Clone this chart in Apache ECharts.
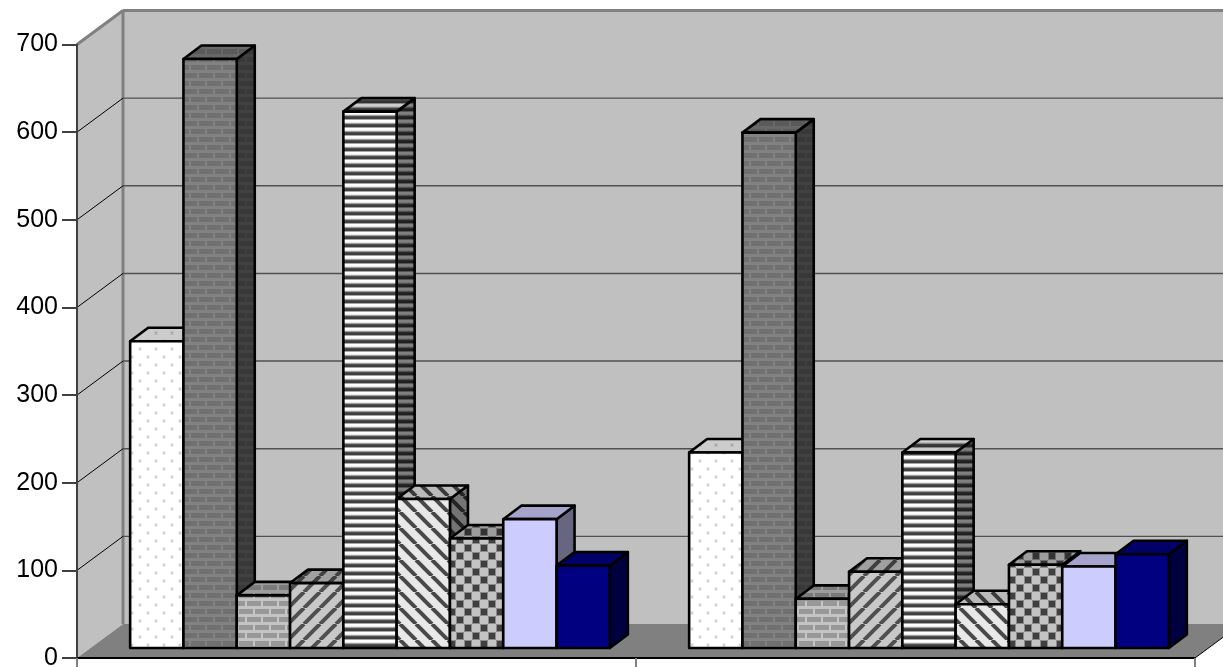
<!DOCTYPE html>
<html>
<head>
<meta charset="utf-8">
<title>3D column chart</title>
<style>html,body{margin:0;padding:0;background:#fff}#chart{width:1223px;height:667px}</style>
<script src="https://cdn.jsdelivr.net/npm/echarts@6/dist/echarts.min.js"></script>
</head>
<body>
<div id="chart"></div>
<script>
const categories = ['', ''];
const yTicks = [0, 100, 200, 300, 400, 500, 600, 700];
const seriesDots = [350, 223];
const seriesBrickDark = [672, 588];
const seriesBrickLight = [60, 56];
const seriesDiagUp = [74, 87];
const seriesStripes = [612, 223];
const seriesDiagDown = [170, 50];
const seriesChecker = [125, 95];
const seriesLilac = [147, 93];
const seriesNavy = [94, 107];

const shade = (hex, f) => {
  const n = parseInt(hex.slice(1), 16);
  const c = [(n >> 16) & 255, (n >> 8) & 255, n & 255].map(v => Math.round(v * f));
  return `rgb(${c[0]},${c[1]},${c[2]})`;
};
function tile(w, h, paint) {
  return f => {
    const c = document.createElement('canvas');
    c.width = w; c.height = h;
    const g = c.getContext('2d');
    paint(g, col => shade(col, f), w, h);
    return { image: c, repeat: 'repeat' };
  };
}
const solid = hex => f => shade(hex, f);
const fillAll = (g, col, w, h) => { g.fillStyle = col; g.fillRect(0, 0, w, h); };
const dots = tile(16, 16, (g, s, w, h) => {
  fillAll(g, s('#ffffff'), w, h);
  [[3, 4], [11, 12]].forEach(([x, y]) => {
    g.fillStyle = s('#f0f0f0'); g.fillRect(x - 1, y - 1, 4, 4);
    g.fillStyle = s('#d0d0d0'); g.fillRect(x, y, 2, 2);
  });
});
const brick = (mortar, block) => tile(16, 16, (g, s, w, h) => {
  fillAll(g, s(mortar), w, h);
  g.fillStyle = s(block);
  g.fillRect(0, 1, 13, 5); g.fillRect(15, 1, 1, 5);
  g.fillRect(0, 9, 5, 5); g.fillRect(7, 9, 9, 5);
});
const diag = (bg, line, dir) => tile(16, 16, (g, s, w, h) => {
  fillAll(g, s(bg), w, h);
  g.strokeStyle = s(line); g.lineWidth = 4;
  for (let o = -16; o <= 32; o += 16) {
    g.beginPath();
    if (dir > 0) { g.moveTo(o, 16); g.lineTo(o + 16, 0); }
    else { g.moveTo(o, 0); g.lineTo(o + 16, 16); }
    g.stroke();
  }
});
const stripes = tile(4, 8, (g, s, w) => {
  ['#ffffff', '#ffffff', '#e8e8e8', '#a0a0a0', '#505050', '#404040', '#404040', '#a8a8a8'].forEach((col, i) => {
    g.fillStyle = s(col); g.fillRect(0, i, w, 1);
  });
});
const checker = tile(16, 16, (g, s, w, h) => {
  fillAll(g, s('#c4c4c4'), w, h);
  g.fillStyle = s('#8a8a8a');
  g.fillRect(0, 0, 8, 8); g.fillRect(8, 8, 8, 8);
  g.fillStyle = s('#404040');
  g.fillRect(1, 1, 6, 6); g.fillRect(9, 9, 6, 6);
});

const seriesDefs = [
  ['Dots', seriesDots, dots],
  ['Brick dark', seriesBrickDark, brick('#828282', '#707070')],
  ['Brick light', seriesBrickLight, brick('#c4c4c4', '#989898')],
  ['Diagonal up', seriesDiagUp, diag('#c8c8c8', '#505050', 1)],
  ['Stripes', seriesStripes, stripes],
  ['Diagonal down', seriesDiagDown, diag('#e8e8e8', '#484848', -1)],
  ['Checker', seriesChecker, checker],
  ['Lilac', seriesLilac, solid('#ccccff')],
  ['Navy', seriesNavy, solid('#000080')]
];

const WALL_DX = 46, WALL_DY = 34;
const BAR_SHIFT_X = 13.5, BAR_LIFT = 10, BAR_DX = 18, BAR_DY = 13.5;
const BAR_FRACTION = 53.3 / 559;

function barRenderer(index, makeFill) {
  const front = makeFill(1), top = makeFill(0.8), side = makeFill(0.5);
  return (params, api) => {
    const p = api.coord([api.value(0), api.value(1)]);
    const base = api.coord([api.value(0), 0]);
    const w = api.size([1, 0])[0] * BAR_FRACTION;
    const x0 = p[0] + BAR_SHIFT_X + (index - 4.5) * w;
    const x1 = x0 + w;
    const yt = p[1] - BAR_LIFT;
    const yb = base[1] - BAR_LIFT;
    const edge = { stroke: '#000', lineWidth: 2.6, lineJoin: 'round' };
    const poly = (points, fill) => ({
      type: 'polygon', shape: { points }, style: Object.assign({ fill }, edge)
    });
    return {
      type: 'group',
      children: [
        poly([[x1, yt], [x1 + BAR_DX, yt - BAR_DY], [x1 + BAR_DX, yb - BAR_DY], [x1, yb]], side),
        poly([[x0, yt], [x0 + BAR_DX, yt - BAR_DY], [x1 + BAR_DX, yt - BAR_DY], [x1, yt]], top),
        poly([[x0, yt], [x1, yt], [x1, yb], [x0, yb]], front)
      ]
    };
  };
}

function wallRenderer(params, api) {
  const v = api.value(0);
  const left = api.coord([0, v]);
  const cs = params.coordSys;
  const xL = cs.x, xR = cs.x + cs.width, y = left[1];
  const children = [];
  if (v === 0) {
    const topY = api.coord([0, yTicks[yTicks.length - 1]])[1];
    children.push(
      { type: 'polygon', shape: { points: [[xL + WALL_DX, topY - WALL_DY], [xR + WALL_DX, topY - WALL_DY], [xR + WALL_DX, y - WALL_DY], [xL + WALL_DX, y - WALL_DY]] }, style: { fill: '#c0c0c0' } },
      { type: 'polygon', shape: { points: [[xL, topY], [xL + WALL_DX, topY - WALL_DY], [xL + WALL_DX, y - WALL_DY], [xL, y]] }, style: { fill: '#c0c0c0' } },
      { type: 'polygon', shape: { points: [[xL, y], [xL + WALL_DX, y - WALL_DY], [xR + WALL_DX, y - WALL_DY], [xR, y]] }, style: { fill: '#808080' } },
      { type: 'line', shape: { x1: xR, y1: y, x2: xR + WALL_DX, y2: y - WALL_DY }, style: { stroke: '#000', lineWidth: 1 } },
      { type: 'rect', shape: { x: xL + WALL_DX - 1.5, y: topY - WALL_DY, width: 3, height: y - topY }, style: { fill: '#808080' } },
      { type: 'line', shape: { x1: xL + WALL_DX, y1: topY - WALL_DY, x2: xR + WALL_DX, y2: topY - WALL_DY }, style: { stroke: '#808080', lineWidth: 3 } },
      { type: 'line', shape: { x1: xL, y1: topY, x2: xL + WALL_DX, y2: topY - WALL_DY }, style: { stroke: '#808080', lineWidth: 3 } }
    );
  } else if (v !== yTicks[yTicks.length - 1]) {
    children.push(
      { type: 'line', shape: { x1: xL, y1: y, x2: xL + WALL_DX, y2: y - WALL_DY }, style: { stroke: '#000', lineWidth: 1 } },
      { type: 'line', shape: { x1: xL + WALL_DX, y1: y - WALL_DY, x2: xR + WALL_DX, y2: y - WALL_DY }, style: { stroke: '#505050', lineWidth: 1.4 } }
    );
  }
  return { type: 'group', children };
}

const series = [{
  type: 'custom', name: 'walls', z: 1, silent: true, clip: false,
  renderItem: wallRenderer,
  encode: { y: 0 },
  data: yTicks.map(v => [v])
}];
seriesDefs.forEach(([name, values, makeFill], i) => {
  series.push({
    type: 'custom', name, z: 2 + i, clip: false,
    renderItem: barRenderer(i, makeFill),
    encode: { x: 0, y: 1 },
    data: values.map((v, c) => [c, v])
  });
});

const chart = echarts.init(document.getElementById('chart'), null, { renderer: 'canvas' });
chart.setOption({
  animation: false,
  backgroundColor: '#ffffff',
  grid: { left: 77, right: 28, top: 44.5, bottom: 9, containLabel: false, outerBoundsMode: 'none' },
  tooltip: { show: false },
  xAxis: {
    type: 'category', data: categories, boundaryGap: true, z: 20,
    axisLine: { show: true, onZero: false, lineStyle: { color: '#000', width: 2 } },
    axisTick: { show: true, length: 10, alignWithLabel: false, interval: 0, lineStyle: { color: '#808080', width: 2 } },
    axisLabel: { show: false },
    splitLine: { show: false }
  },
  yAxis: {
    type: 'value', min: 0, max: 700, interval: 100, z: 20,
    axisLine: { show: true, lineStyle: { color: '#404040', width: 2 } },
    axisTick: { show: true, length: 15, lineStyle: { color: '#404040', width: 2 } },
    axisLabel: { fontFamily: '"Liberation Sans", Arial, sans-serif', fontSize: 25, color: '#000', margin: 19, padding: [2, 0, 0, 0] },
    splitLine: { show: false }
  },
  series
});
</script>
</body>
</html>
